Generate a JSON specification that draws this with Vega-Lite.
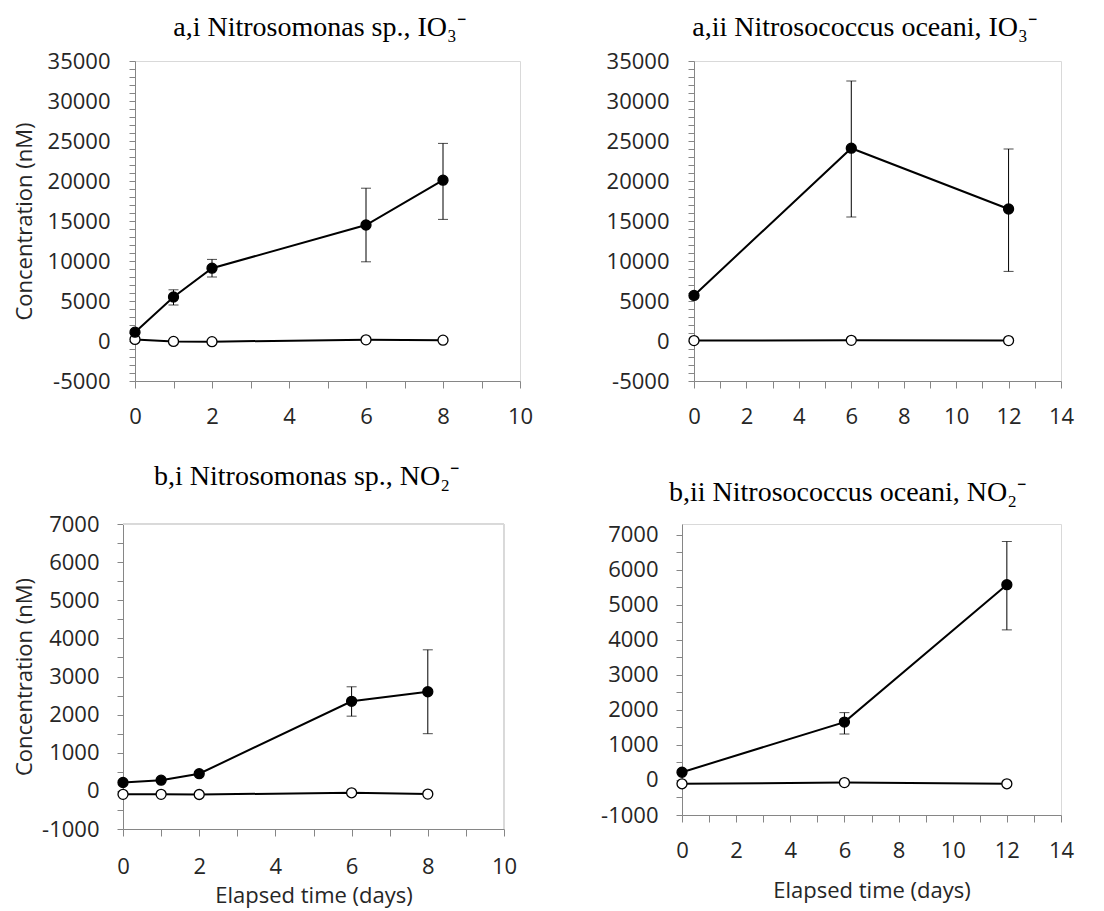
{
  "$schema": "https://vega.github.io/schema/vega-lite/v6.json",
  "autosize": {"type": "pad"},
  "padding": {"left": 12, "top": 13, "right": 0, "bottom": 2},
  "background": "white",
  "data": {"values": [
    {"panel": "ai", "series": "control", "day": 0, "value": 200},
    {"panel": "ai", "series": "control", "day": 1, "value": -50},
    {"panel": "ai", "series": "control", "day": 2, "value": -80},
    {"panel": "ai", "series": "control", "day": 6, "value": 150},
    {"panel": "ai", "series": "control", "day": 8, "value": 100},
    {"panel": "ai", "series": "treated", "day": 0, "value": 1100},
    {"panel": "ai", "series": "treated", "day": 1, "value": 5500, "lo": 4500, "hi": 6400},
    {"panel": "ai", "series": "treated", "day": 2, "value": 9100, "lo": 8000, "hi": 10200},
    {"panel": "ai", "series": "treated", "day": 6, "value": 14500, "lo": 9900, "hi": 19100},
    {"panel": "ai", "series": "treated", "day": 8, "value": 20100, "lo": 15200, "hi": 24700},
    {"panel": "aii", "series": "control", "day": 0, "value": 50},
    {"panel": "aii", "series": "control", "day": 6, "value": 80},
    {"panel": "aii", "series": "control", "day": 12, "value": 50},
    {"panel": "aii", "series": "treated", "day": 0, "value": 5700},
    {"panel": "aii", "series": "treated", "day": 6, "value": 24100, "lo": 15500, "hi": 32500},
    {"panel": "aii", "series": "treated", "day": 12, "value": 16500, "lo": 8700, "hi": 24000},
    {"panel": "bi", "series": "control", "day": 0, "value": -90},
    {"panel": "bi", "series": "control", "day": 1, "value": -90},
    {"panel": "bi", "series": "control", "day": 2, "value": -95},
    {"panel": "bi", "series": "control", "day": 6, "value": -50},
    {"panel": "bi", "series": "control", "day": 8, "value": -85},
    {"panel": "bi", "series": "treated", "day": 0, "value": 220},
    {"panel": "bi", "series": "treated", "day": 1, "value": 280},
    {"panel": "bi", "series": "treated", "day": 2, "value": 450},
    {"panel": "bi", "series": "treated", "day": 6, "value": 2350, "lo": 1960, "hi": 2730},
    {"panel": "bi", "series": "treated", "day": 8, "value": 2600, "lo": 1500, "hi": 3700},
    {"panel": "bii", "series": "control", "day": 0, "value": -110},
    {"panel": "bii", "series": "control", "day": 6, "value": -75},
    {"panel": "bii", "series": "control", "day": 12, "value": -110},
    {"panel": "bii", "series": "treated", "day": 0, "value": 220},
    {"panel": "bii", "series": "treated", "day": 6, "value": 1650, "lo": 1310, "hi": 1920},
    {"panel": "bii", "series": "treated", "day": 12, "value": 5570, "lo": 4280, "hi": 6800}
  ]},
  "spacing": 35,
  "bounds": "full",
  "vconcat": [
    {
      "bounds": "flush",
      "spacing": 174,
      "hconcat": [
        {
          "width": 385, "height": 320,
          "title": {"text": "a,i Nitrosomonas sp., IO₃⁻", "dx": -8, "offset": 8},
          "transform": [{"filter": "datum.panel === 'ai'"}],
          "encoding": {
            "x": {"field": "day", "type": "quantitative", "scale": {"domain": [0, 10], "nice": false},
                  "axis": {"values": [0,1,2,3,4,5,6,7,8,9,10], "labelExpr": "datum.value % 2 === 0 ? toString(datum.value) : ''", "tickSize": 7, "labelPadding": 18, "title": null}},
            "y": {"field": "value", "type": "quantitative", "scale": {"domain": [-5000, 35000], "nice": false, "zero": false},
                  "axis": {"values": [-5000,-4000,-3000,-2000,-1000,0,1000,2000,3000,4000,5000,6000,7000,8000,9000,10000,11000,12000,13000,14000,15000,16000,17000,18000,19000,20000,21000,22000,23000,24000,25000,26000,27000,28000,29000,30000,31000,32000,33000,34000,35000],
                           "labelExpr": "datum.value % 5000 === 0 ? toString(datum.value) : ''", "tickSize": 6, "labelPadding": 19, "minExtent": 85, "maxExtent": 85, "title": "Concentration (nM)", "titlePadding": 14}}
          },
          "layer": [
            {"transform": [{"filter": "isValid(datum.lo)"}], "mark": {"type": "rule", "color": "black", "strokeWidth": 1}, "encoding": {"y": {"field": "lo", "type": "quantitative"}, "y2": {"field": "hi"}}},
            {"transform": [{"filter": "isValid(datum.lo)"}], "mark": {"type": "tick", "orient": "horizontal", "size": 10, "thickness": 1, "color": "black"}, "encoding": {"y": {"field": "lo", "type": "quantitative"}}},
            {"transform": [{"filter": "isValid(datum.hi)"}], "mark": {"type": "tick", "orient": "horizontal", "size": 10, "thickness": 1, "color": "black"}, "encoding": {"y": {"field": "hi", "type": "quantitative"}}},
            {"mark": {"type": "line", "color": "black", "strokeWidth": 2}, "encoding": {"detail": {"field": "series"}}},
            {"mark": {"type": "point", "shape": "circle", "filled": true, "size": 100, "stroke": "black", "strokeWidth": 1.3, "opacity": 1},
             "encoding": {"fill": {"field": "series", "type": "nominal", "scale": {"domain": ["treated", "control"], "range": ["black", "white"]}, "legend": null}}}
          ]
        },
        {
          "width": 367, "height": 320,
          "title": {"text": "a,ii Nitrosococcus oceani, IO₃⁻", "dx": -13, "offset": 8},
          "transform": [{"filter": "datum.panel === 'aii'"}],
          "encoding": {
            "x": {"field": "day", "type": "quantitative", "scale": {"domain": [0, 14], "nice": false},
                  "axis": {"values": [0,1,2,3,4,5,6,7,8,9,10,11,12,13,14], "labelExpr": "datum.value % 2 === 0 ? toString(datum.value) : ''", "tickSize": 7, "labelPadding": 18, "title": null}},
            "y": {"field": "value", "type": "quantitative", "scale": {"domain": [-5000, 35000], "nice": false, "zero": false},
                  "axis": {"values": [-5000,-4000,-3000,-2000,-1000,0,1000,2000,3000,4000,5000,6000,7000,8000,9000,10000,11000,12000,13000,14000,15000,16000,17000,18000,19000,20000,21000,22000,23000,24000,25000,26000,27000,28000,29000,30000,31000,32000,33000,34000,35000],
                           "labelExpr": "datum.value % 5000 === 0 ? toString(datum.value) : ''", "tickSize": 6, "labelPadding": 19, "title": null}}
          },
          "layer": [
            {"transform": [{"filter": "isValid(datum.lo)"}], "mark": {"type": "rule", "color": "black", "strokeWidth": 1}, "encoding": {"y": {"field": "lo", "type": "quantitative"}, "y2": {"field": "hi"}}},
            {"transform": [{"filter": "isValid(datum.lo)"}], "mark": {"type": "tick", "orient": "horizontal", "size": 10, "thickness": 1, "color": "black"}, "encoding": {"y": {"field": "lo", "type": "quantitative"}}},
            {"transform": [{"filter": "isValid(datum.hi)"}], "mark": {"type": "tick", "orient": "horizontal", "size": 10, "thickness": 1, "color": "black"}, "encoding": {"y": {"field": "hi", "type": "quantitative"}}},
            {"mark": {"type": "line", "color": "black", "strokeWidth": 2}, "encoding": {"detail": {"field": "series"}}},
            {"mark": {"type": "point", "shape": "circle", "filled": true, "size": 100, "stroke": "black", "strokeWidth": 1.3, "opacity": 1},
             "encoding": {"fill": {"field": "series", "type": "nominal", "scale": {"domain": ["treated", "control"], "range": ["black", "white"]}, "legend": null}}}
          ]
        }
      ]
    },
    {
      "bounds": "flush",
      "spacing": 178,
      "hconcat": [
        {
          "width": 369, "height": 305,
          "view": {"stroke": null},
          "title": {"text": "b,i Nitrosomonas sp., NO₂⁻", "dx": -13, "offset": 22},
          "transform": [{"filter": "datum.panel === 'bi'"}],
          "encoding": {
            "x": {"field": "day", "type": "quantitative", "scale": {"domain": [0, 10], "nice": false, "range": [-12, 369]},
                  "axis": {"values": [0,1,2,3,4,5,6,7,8,9,10], "labelExpr": "datum.value % 2 === 0 ? toString(datum.value) : ''", "tickSize": 7, "labelPadding": 20, "title": "Elapsed time (days)", "titlePadding": 8}},
            "y": {"field": "value", "type": "quantitative", "scale": {"domain": [-1000, 7000], "nice": false, "zero": false},
                  "axis": {"values": [-1000,-500,0,500,1000,1500,2000,2500,3000,3500,4000,4500,5000,5500,6000,6500,7000],
                           "labelExpr": "datum.value % 1000 === 0 ? toString(datum.value) : ''", "offset": 12, "tickSize": 6, "labelPadding": 18, "minExtent": 85, "maxExtent": 85, "title": "Concentration (nM)", "titlePadding": 2}}
          },
          "layer": [
            {"mark": {"type": "rule", "color": "#d9d9d9", "strokeWidth": 1}, "encoding": {"x": {"datum": 0}, "x2": {"datum": 10}, "y": {"datum": 7000}}},
            {"mark": {"type": "rule", "color": "#d9d9d9", "strokeWidth": 1}, "encoding": {"x": {"datum": 10}, "y": {"datum": -1000}, "y2": {"datum": 7000}}},
            {"transform": [{"filter": "isValid(datum.lo)"}], "mark": {"type": "rule", "color": "black", "strokeWidth": 1}, "encoding": {"y": {"field": "lo", "type": "quantitative"}, "y2": {"field": "hi"}}},
            {"transform": [{"filter": "isValid(datum.lo)"}], "mark": {"type": "tick", "orient": "horizontal", "size": 10, "thickness": 1, "color": "black"}, "encoding": {"y": {"field": "lo", "type": "quantitative"}}},
            {"transform": [{"filter": "isValid(datum.hi)"}], "mark": {"type": "tick", "orient": "horizontal", "size": 10, "thickness": 1, "color": "black"}, "encoding": {"y": {"field": "hi", "type": "quantitative"}}},
            {"mark": {"type": "line", "color": "black", "strokeWidth": 2}, "encoding": {"detail": {"field": "series"}}},
            {"mark": {"type": "point", "shape": "circle", "filled": true, "size": 100, "stroke": "black", "strokeWidth": 1.3, "opacity": 1},
             "encoding": {"fill": {"field": "series", "type": "nominal", "scale": {"domain": ["treated", "control"], "range": ["black", "white"]}, "legend": null}}}
          ]
        },
        {
          "width": 379, "height": 291,
          "title": {"text": "b,ii Nitrosococcus oceani, NO₂⁻", "dx": -24, "offset": 17},
          "transform": [{"filter": "datum.panel === 'bii'"}],
          "encoding": {
            "x": {"field": "day", "type": "quantitative", "scale": {"domain": [0, 14], "nice": false},
                  "axis": {"values": [0,1,2,3,4,5,6,7,8,9,10,11,12,13,14], "labelExpr": "datum.value % 2 === 0 ? toString(datum.value) : ''", "tickSize": 7, "labelPadding": 18, "title": "Elapsed time (days)", "titlePadding": 19}},
            "y": {"field": "value", "type": "quantitative", "scale": {"domain": [-1000, 7300], "nice": false, "zero": false},
                  "axis": {"values": [-1000,-500,0,500,1000,1500,2000,2500,3000,3500,4000,4500,5000,5500,6000,6500,7000],
                           "labelExpr": "datum.value % 1000 === 0 ? toString(datum.value) : ''", "tickSize": 6, "labelPadding": 18, "title": null}}
          },
          "layer": [
            {"transform": [{"filter": "isValid(datum.lo)"}], "mark": {"type": "rule", "color": "black", "strokeWidth": 1}, "encoding": {"y": {"field": "lo", "type": "quantitative"}, "y2": {"field": "hi"}}},
            {"transform": [{"filter": "isValid(datum.lo)"}], "mark": {"type": "tick", "orient": "horizontal", "size": 10, "thickness": 1, "color": "black"}, "encoding": {"y": {"field": "lo", "type": "quantitative"}}},
            {"transform": [{"filter": "isValid(datum.hi)"}], "mark": {"type": "tick", "orient": "horizontal", "size": 10, "thickness": 1, "color": "black"}, "encoding": {"y": {"field": "hi", "type": "quantitative"}}},
            {"mark": {"type": "line", "color": "black", "strokeWidth": 2}, "encoding": {"detail": {"field": "series"}}},
            {"mark": {"type": "point", "shape": "circle", "filled": true, "size": 100, "stroke": "black", "strokeWidth": 1.3, "opacity": 1},
             "encoding": {"fill": {"field": "series", "type": "nominal", "scale": {"domain": ["treated", "control"], "range": ["black", "white"]}, "legend": null}}}
          ]
        }
      ]
    }
  ],
  "config": {
    "font": "Open Sans",
    "view": {"stroke": "#d9d9d9", "strokeWidth": 1},
    "axis": {"grid": false, "domainColor": "#868686", "domainWidth": 1, "tickColor": "#868686", "tickWidth": 1,
             "labelColor": "#262626", "labelFont": "Open Sans", "labelFontSize": 22, "labelOverlap": false, "labelBound": false, "labelFlush": false,
             "titleFont": "Open Sans", "titleFontSize": 22, "titleFontWeight": "normal", "titleColor": "#262626"},
    "title": {"font": "Liberation Serif", "fontSize": 28, "fontWeight": "normal", "color": "black", "anchor": "middle"}
  }
}
